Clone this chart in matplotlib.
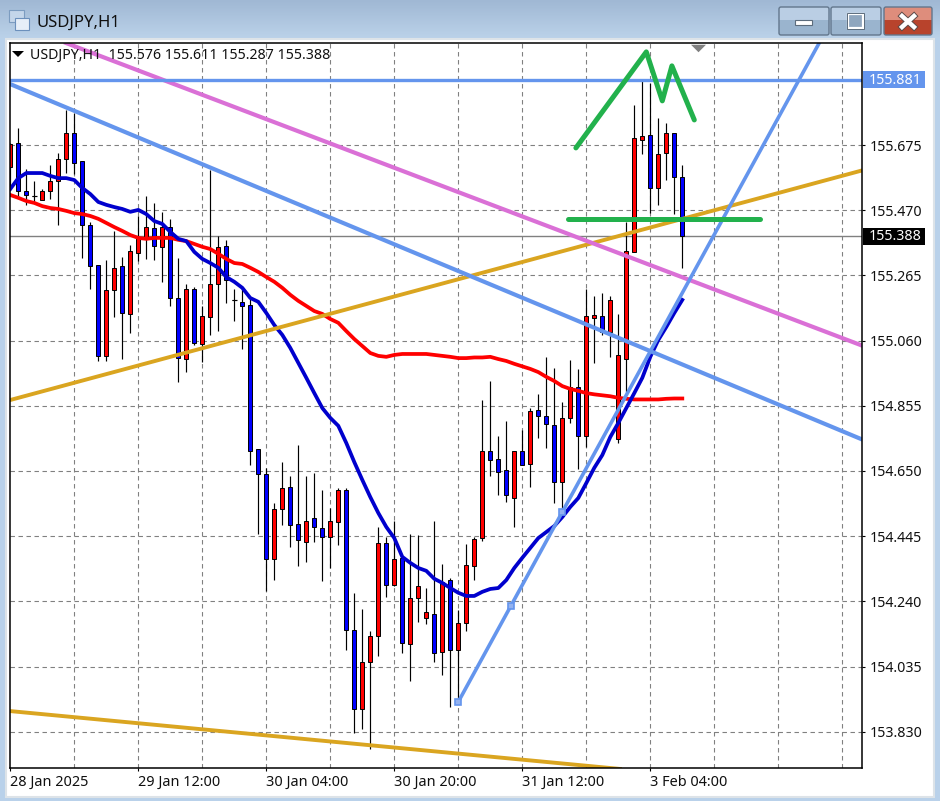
import numpy as np
import matplotlib
matplotlib.use('Agg')
import matplotlib.pyplot as plt
from matplotlib.patches import Rectangle, Polygon, FancyBboxPatch

plt.rcParams['font.family'] = ['Noto Sans', 'DejaVu Sans']

# hourly candles, one value per bar
opens = [155.606, 155.682, 155.531, 155.516, 155.502, 155.531, 155.562, 155.631, 155.713, 155.625,
         155.424, 155.298, 155.012, 155.219, 155.295, 155.144, 155.336, 155.380, 155.414, 155.355,
         155.417, 155.194, 155.002, 155.222, 155.050, 155.134, 155.238, 155.358, 155.188, 155.182,
         155.172, 154.719, 154.641, 154.373, 154.531, 154.600, 154.483, 154.427, 154.502, 154.471,
         154.443, 154.490, 154.590, 154.150, 153.902, 154.050, 154.131, 154.424, 154.292, 154.377,
         154.106, 154.251, 154.188, 154.200, 154.081, 154.307, 154.087, 154.172, 154.351, 154.440,
         154.713, 154.688, 154.653, 154.565, 154.713, 154.672, 154.842, 154.823, 154.795, 154.616,
         154.817, 154.914, 154.760, 155.131, 155.138, 155.087, 154.751, 155.002, 155.339, 155.691,
         155.707, 155.540, 155.650, 155.713, 155.576]
highs = [155.681, 155.729, 155.600, 155.562, 155.537, 155.612, 155.650, 155.785, 155.776, 155.625,
         155.433, 155.298, 155.314, 155.405, 155.323, 155.361, 155.452, 155.515, 155.493, 155.465,
         155.443, 155.320, 155.238, 155.229, 155.169, 155.597, 155.389, 155.377, 155.222, 155.226,
         155.194, 154.719, 154.660, 154.550, 154.678, 154.634, 154.732, 154.634, 154.644, 154.590,
         154.534, 154.597, 154.597, 154.266, 154.216, 154.147, 154.474, 154.443, 154.493, 154.377,
         154.452, 154.449, 154.282, 154.493, 154.358, 154.314, 154.213, 154.421, 154.443, 154.873,
         154.933, 154.760, 154.807, 154.713, 154.779, 154.848, 154.892, 155.009, 154.974, 154.867,
         154.999, 154.971, 155.222, 155.201, 155.210, 155.201, 155.144, 155.433, 155.801, 155.877,
         155.870, 155.760, 155.745, 155.713, 155.611]
lows = [155.534, 155.512, 155.487, 155.493, 155.502, 155.506, 155.424, 155.587, 155.584, 155.320,
        155.222, 154.996, 154.996, 155.134, 155.002, 155.084, 155.311, 155.317, 155.314, 155.245,
        155.169, 154.930, 154.961, 155.046, 154.993, 155.078, 155.090, 155.178, 155.122, 155.034,
        154.669, 154.452, 154.273, 154.307, 154.480, 154.411, 154.351, 154.364, 154.427, 154.304,
        154.345, 154.417, 154.087, 153.826, 153.839, 153.776, 154.068, 154.254, 154.289, 154.078,
        153.990, 154.175, 154.169, 154.050, 154.009, 153.908, 153.927, 154.147, 154.307, 154.430,
        154.634, 154.575, 154.553, 154.474, 154.669, 154.600, 154.754, 154.723, 154.550, 154.528,
        154.801, 154.656, 154.726, 154.990, 155.078, 155.009, 154.738, 154.899, 155.339, 155.647,
        155.462, 155.487, 155.565, 155.458, 155.287]
closes = [155.678, 155.531, 155.518, 155.516, 155.531, 155.562, 155.631, 155.713, 155.619, 155.424,
          155.295, 155.012, 155.219, 155.289, 155.147, 155.342, 155.386, 155.417, 155.358, 155.417,
          155.194, 155.005, 155.222, 155.053, 155.138, 155.238, 155.355, 155.251, 155.188, 155.169,
          154.713, 154.641, 154.373, 154.531, 154.597, 154.480, 154.433, 154.493, 154.474, 154.443,
          154.493, 154.590, 154.150, 153.902, 154.050, 154.131, 154.424, 154.292, 154.373, 154.109,
          154.251, 154.289, 154.207, 154.078, 154.301, 154.087, 154.172, 154.355, 154.436, 154.713,
          154.685, 154.647, 154.575, 154.713, 154.669, 154.839, 154.823, 154.798, 154.616, 154.817,
          154.914, 154.760, 155.138, 155.141, 155.087, 155.188, 155.015, 155.342, 155.697, 155.704,
          155.540, 155.647, 155.713, 155.575, 155.388]

# moving averages
ma_fast = [155.537, 155.571, 155.587, 155.587, 155.587, 155.578, 155.571, 155.571, 155.565, 155.540,
           155.521, 155.496, 155.487, 155.480, 155.474, 155.465, 155.471, 155.458, 155.436, 155.427,
           155.402, 155.380, 155.373, 155.339, 155.317, 155.304, 155.289, 155.260, 155.245, 155.226,
           155.194, 155.182, 155.147, 155.109, 155.078, 155.037, 154.990, 154.943, 154.895, 154.848,
           154.817, 154.792, 154.738, 154.678, 154.622, 154.568, 154.518, 154.474, 154.439, 154.380,
           154.361, 154.345, 154.336, 154.311, 154.298, 154.282, 154.267, 154.257, 154.257, 154.270,
           154.279, 154.282, 154.307, 154.345, 154.377, 154.408, 154.439, 154.458, 154.477, 154.505,
           154.537, 154.565, 154.612, 154.660, 154.700, 154.757, 154.801, 154.848, 154.895, 154.943,
           155.009, 155.062, 155.103, 155.147, 155.188]
ma_slow = [155.518, 155.509, 155.499, 155.493, 155.483, 155.477, 155.474, 155.468, 155.461, 155.458,
           155.452, 155.443, 155.430, 155.417, 155.405, 155.392, 155.383, 155.380, 155.383, 155.383,
           155.383, 155.377, 155.373, 155.364, 155.355, 155.348, 155.333, 155.317, 155.304, 155.301,
           155.289, 155.276, 155.260, 155.245, 155.226, 155.204, 155.185, 155.169, 155.153, 155.144,
           155.128, 155.116, 155.090, 155.065, 155.043, 155.021, 155.012, 155.009, 155.015, 155.018,
           155.018, 155.018, 155.018, 155.015, 155.012, 155.009, 155.005, 155.005, 155.007, 155.007,
           155.009, 155.002, 154.996, 154.987, 154.979, 154.971, 154.961, 154.946, 154.933, 154.917,
           154.908, 154.902, 154.895, 154.891, 154.888, 154.885, 154.880, 154.877, 154.875, 154.875,
           154.875, 154.875, 154.877, 154.878, 154.878]

# hand drawn objects: bar numbers and prices
pink_x, pink_y = [6.96, 106.3], [155.996, 155.046]
chan_x, chan_y = [-0.04, 106.3], [155.867, 154.751]
gold_x, gold_y = [-0.04, 106.3], [154.873, 155.594]
gold2_x, gold2_y = [-0.04, 76.2], [153.895, 153.713]
rise_x, rise_y = [56.0, 101.2], [153.924, 156.0]
rise_pts_x, rise_pts_y = [56.0, 62.6, 69.0], [153.924, 154.226, 154.521]
neck_x, neck_y = [69.7, 93.7], [155.442, 155.442]
zig_x = [70.7, 79.5, 81.5, 82.7, 85.5]
zig_y = [155.666, 155.968, 155.814, 155.924, 155.754]
resist = 155.881
last_price = 155.388

price_ticks = [155.675, 155.470, 155.265, 155.060, 154.855, 154.650, 154.445, 154.240, 154.035, 153.830]
time_ticks = [0, 16, 32, 48, 64, 80]
time_labels = ['28 Jan 2025', '29 Jan 12:00', '30 Jan 04:00', '30 Jan 20:00', '31 Jan 12:00', '3 Feb 04:00']
header = 'USDJPY,H1  155.576 155.611 155.287 155.388'

CORNFLOWER = '#6495ED'
ORCHID = '#DA70D6'
GOLD = '#DAA520'
GREEN = '#22B14C'
W, H = 940, 801

fig = plt.figure(figsize=(W / 100, H / 100), dpi=100)

# window frame, in pixels
bg = fig.add_axes([0, 0, 1, 1], zorder=0)
bg.axis('off')
grad = np.linspace(0, 1, 40).reshape(-1, 1)
bg.imshow(grad, extent=[0, W, 40, 0], aspect='auto', cmap=matplotlib.colors.LinearSegmentedColormap.from_list('t', ['#a0b8d4', '#bcd3ea']))
bg.set_xlim(0, W)
bg.set_ylim(H, 0)
bg.add_patch(Rectangle((0, 38), W, H - 38, fc='#b9d1ea', ec='none', zorder=1))
bg.add_patch(Rectangle((6, 39), 928, 758, fc='white', ec='#dde3e8', lw=1.5, zorder=2))


def button(x, w, top, low):
    bg.add_patch(Rectangle((x, 7), w, 13, fc=top, ec='none', zorder=3))
    bg.add_patch(Rectangle((x, 20), w, 15, fc=low, ec='none', zorder=3))
    bg.add_patch(FancyBboxPatch((x, 7), w, 28, boxstyle='round,pad=0,rounding_size=2', fc='none', ec='#62768c', lw=1, zorder=4))


button(779, 50, '#bacee4', '#9ab4ce')
button(831, 50, '#bacee4', '#9ab4ce')
button(884, 48, '#de8d7c', '#b8432c')
bg.add_patch(Rectangle((795, 20), 17, 5, fc='white', ec='#5c6c7c', lw=0.8, zorder=5))
bg.add_patch(Rectangle((848, 14), 15, 14, fc='#8fa6be', ec='white', lw=1.6, zorder=5))
bg.add_patch(Rectangle((847, 13), 17, 16, fc='none', ec='#5c6c7c', lw=0.7, zorder=6))
bg.plot([902, 914], [16, 27], color='#5c4a48', lw=4.6, zorder=5)
bg.plot([902, 914], [27, 16], color='#5c4a48', lw=4.6, zorder=5)
bg.plot([902, 914], [16, 27], color='white', lw=3.2, zorder=6)
bg.plot([902, 914], [27, 16], color='white', lw=3.2, zorder=6)
bg.add_patch(Rectangle((9, 10), 15, 12, fc='#c4d6ea', ec='#7c9cc0', lw=0.8, zorder=5))
bg.add_patch(Rectangle((15, 18), 14, 12, fc='#e6eef8', ec='#6c90bc', lw=0.8, zorder=6))
bg.text(36, 22.5, 'USDJPY,H1', fontsize=12, color='#101010', va='center', ha='left', zorder=6)

# chart
left, right, top, bottom = 9.7, 861.7, 43.3, 768.3
ax = fig.add_axes([left / W, 1 - bottom / H, (right - left) / W, (bottom - top) / H], zorder=1)
ax.set_xlim(-0.075, 106.425)
ax.set_ylim(153.715, 155.995)
for side in ax.spines.values():
    side.set_linewidth(1.1)
    side.set_color('black')
    side.set_zorder(10)

ax.vlines(np.arange(8, 105, 8), 153.715, 155.995, color='#808080', lw=0.8, linestyles=(0, (4, 3.2)), zorder=0)
ax.hlines(price_ticks, -0.075, 106.425, color='#808080', lw=0.8, linestyles=(0, (4, 3.2)), zorder=0)
ax.axhline(last_price, color='#808080', lw=1.0, zorder=1)

bars = np.arange(len(opens))
o = np.array(opens)
c = np.array(closes)
ax.vlines(bars, lows, highs, color='black', lw=0.85, zorder=2)
colors = np.where(c > o, '#FF0000', '#0000FF')
ax.bar(bars, np.abs(c - o), bottom=np.minimum(o, c), width=0.52, color=colors,
       edgecolor='black', linewidth=0.7, zorder=3)
doji = np.abs(c - o) < 0.001
ax.hlines(o[doji], bars[doji] - 0.3, bars[doji] + 0.3, color='black', lw=0.85, zorder=3)

ax.plot(bars, ma_slow, color='#FF0000', lw=2.7, zorder=4)
ax.plot(bars, ma_fast, color='#0000CD', lw=2.7, zorder=4)

ax.plot(gold_x, gold_y, color=GOLD, lw=2.8, zorder=5)
ax.plot(gold2_x, gold2_y, color=GOLD, lw=2.8, zorder=5)
ax.plot(pink_x, pink_y, color=ORCHID, lw=3.0, zorder=5)
ax.plot(chan_x, chan_y, color=CORNFLOWER, lw=3.0, zorder=5)
ax.plot(rise_x, rise_y, color=CORNFLOWER, lw=2.6, zorder=5)
ax.plot(rise_pts_x, rise_pts_y, ls='none', marker='s', ms=4.6, mfc='#93b2f0', mec=CORNFLOWER, mew=1.2, zorder=6)
ax.axhline(resist, color=CORNFLOWER, lw=2.4, zorder=5)
ax.plot(neck_x, neck_y, color=GREEN, lw=3.6, solid_capstyle='round', zorder=6)
ax.plot(zig_x, zig_y, color=GREEN, lw=3.6, solid_capstyle='round', solid_joinstyle='round', zorder=6)
ax.plot([86], [155.98], marker=[(-1, 0.5), (1, 0.5), (0, -0.5)], ms=10.8, color='#808080', mew=0, zorder=6)

ax.yaxis.tick_right()
ax.set_yticks(price_ticks)
ax.set_yticklabels([f'{p:.3f}' for p in price_ticks], fontsize=10.2, color='#101010')
ax.set_xticks(time_ticks)
ax.set_xticklabels(time_labels, fontsize=10.4, color='#101010', ha='left')
ax.tick_params(axis='y', length=2.5, width=0.8, pad=3.4)
ax.tick_params(axis='x', length=2.5, width=0.8, pad=2)

# price tags on the right side
tr = ax.get_yaxis_transform()
for price, fc, tc in [(resist, CORNFLOWER, 'white'), (last_price, 'black', 'white')]:
    ax.add_patch(Rectangle((1.0018, price - 0.0265), 0.0725, 0.053, transform=tr, fc=fc, ec='none', clip_on=False, zorder=11))
    ax.text(1.0085, price - 0.002, f'{price:.3f}', transform=tr, fontsize=10.2, color=tc, va='center', ha='left', clip_on=False, zorder=12)

# header line over the chart
fig.add_artist(Polygon([[12 / W, 1 - 51 / H], [24 / W, 1 - 51 / H], [18 / W, 1 - 57 / H]], closed=True, fc='black', ec='none', transform=fig.transFigure, zorder=5))
fig.text(30 / W, 1 - 55 / H, header, fontsize=10.2, color='#101010', va='center', ha='left', zorder=5)

plt.savefig('out.png', dpi=100)
plt.close()
